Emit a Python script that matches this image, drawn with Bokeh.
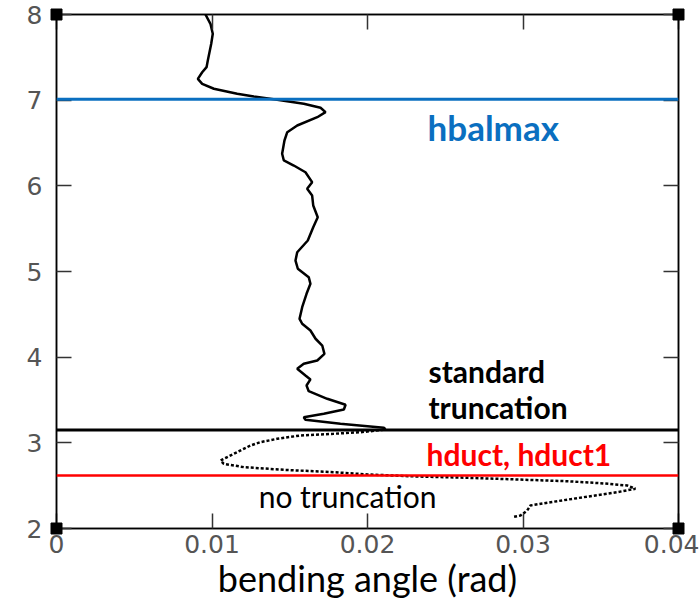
from bokeh.plotting import figure
from bokeh.models import Span, Label, LinearAxis, FixedTicker, Range1d
from bokeh.embed import file_html
from bokeh.resources import INLINE

# Bending angle profile: solid part (above standard truncation)
solid_angle = [0.00958, 0.00990, 0.01005, 0.00995, 0.00973, 0.00965, 0.00937, 0.00909,
               0.00937, 0.01012, 0.01162, 0.01269, 0.01419, 0.01590, 0.01698, 0.01730,
               0.01677, 0.01548, 0.01484, 0.01466, 0.01451, 0.01462, 0.01526, 0.01601,
               0.01644, 0.01612, 0.01644, 0.01651, 0.01680, 0.01651, 0.01616, 0.01548,
               0.01537, 0.01552, 0.01622, 0.01633, 0.01608, 0.01580, 0.01563, 0.01580,
               0.01633, 0.01666, 0.01709, 0.01723, 0.01677, 0.01590, 0.01548, 0.01601,
               0.01633, 0.01608, 0.01622, 0.01741, 0.01859, 0.01848, 0.01719, 0.01590,
               0.01601, 0.01826, 0.02105, 0.02116]
solid_height = [8.000, 7.891, 7.775, 7.658, 7.463, 7.385, 7.326, 7.249,
                7.191, 7.133, 7.074, 7.043, 7.004, 6.958, 6.911, 6.860,
                6.801, 6.704, 6.626, 6.529, 6.374, 6.296, 6.237, 6.159,
                6.043, 5.965, 5.887, 5.771, 5.634, 5.517, 5.362, 5.225,
                5.128, 5.032, 4.934, 4.857, 4.740, 4.583, 4.448, 4.390,
                4.311, 4.215, 4.136, 4.039, 3.961, 3.923, 3.864, 3.786,
                3.740, 3.669, 3.603, 3.514, 3.444, 3.389, 3.339, 3.299,
                3.269, 3.222, 3.176, 3.160]

# Dotted part (below standard truncation, no truncation)
dotted_angle = [0.02105, 0.01955, 0.01783, 0.01569, 0.01419, 0.01312, 0.01248, 0.01140,
                0.01055, 0.01076, 0.01205, 0.01462, 0.01783, 0.01998, 0.02320, 0.02641,
                0.02963, 0.03284, 0.03498, 0.03670, 0.03723, 0.03606, 0.03391, 0.03177,
                0.03048, 0.03027, 0.02984, 0.02931]
dotted_height = [3.152, 3.124, 3.106, 3.086, 3.047, 3.008, 2.969, 2.872,
                 2.794, 2.755, 2.716, 2.685, 2.657, 2.631, 2.607, 2.592,
                 2.572, 2.552, 2.529, 2.502, 2.464, 2.424, 2.366, 2.307,
                 2.269, 2.210, 2.152, 2.132]

# Reference heights (km)
h_balmax = 7.01
h_standard = 3.15
h_duct = 2.62

x_ticks = [0, 0.01, 0.02, 0.03, 0.04]
y_ticks = [2, 3, 4, 5, 6, 7, 8]
x_tick_labels = {0: "0", 0.01: "0.01", 0.02: "0.02", 0.03: "0.03", 0.04: "0.04"}

p = figure(width=699, height=604, output_backend="svg", toolbar_location=None,
           x_range=Range1d(0, 0.04), y_range=Range1d(2, 8),
           min_border_left=56, min_border_right=21, min_border_top=14,
           min_border_bottom=76)
p.background_fill_color = "white"
p.border_fill_color = "white"
p.outline_line_color = "black"
p.outline_line_width = 1.5
p.grid.visible = False

tick_font = "DejaVu Sans"
for ax in (p.xaxis[0], p.yaxis[0]):
    ax.major_tick_in = 15
    ax.major_tick_out = 0
    ax.minor_tick_in = 0
    ax.minor_tick_out = 0
    ax.axis_line_color = "black"
    ax.axis_line_width = 1.5
    ax.major_tick_line_color = "#333333"
    ax.major_tick_line_width = 1.5
    ax.major_label_text_font = tick_font
    ax.major_label_text_font_size = "25px"
    ax.major_label_text_color = "#555555"

p.xaxis[0].ticker = FixedTicker(ticks=x_ticks)
p.xaxis[0].major_label_overrides = x_tick_labels
p.xaxis[0].major_label_standoff = 6
p.xaxis[0].axis_label = "bending angle (rad)"
p.xaxis[0].axis_label_text_font = "Lato"
p.xaxis[0].axis_label_text_font_style = "normal"
p.xaxis[0].axis_label_text_font_size = "36px"
p.xaxis[0].axis_label_text_color = "black"
p.xaxis[0].axis_label_standoff = 0

p.yaxis[0].ticker = FixedTicker(ticks=y_ticks)
p.yaxis[0].major_label_standoff = 14

# Mirror axes on the top and right: inward ticks, no labels
for side, ticks in (("above", x_ticks), ("right", y_ticks)):
    ax = LinearAxis(ticker=FixedTicker(ticks=ticks),
                    major_label_overrides={t: "" for t in ticks},
                    major_tick_in=15, major_tick_out=0,
                    minor_tick_in=0, minor_tick_out=0, axis_line_color="black",
                    axis_line_width=1.5, major_tick_line_color="#333333",
                    major_tick_line_width=1.5, major_label_standoff=0)
    p.add_layout(ax, side)

# Reference height lines
p.add_layout(Span(location=h_balmax, dimension="width", line_color="#0a6fc0", line_width=3))
p.add_layout(Span(location=h_standard, dimension="width", line_color="black", line_width=3))
p.add_layout(Span(location=h_duct, dimension="width", line_color="#ff0000", line_width=2.5))

# Profile
p.line(solid_angle, solid_height, line_color="black", line_width=2.5)
p.line(dotted_angle, dotted_height, line_color="black", line_width=2.5, line_dash="3 2")

# Corner markers
p.scatter([0, 0, 0.04, 0.04], [2, 8, 2, 8], marker="square", size=11,
          fill_color="black", line_color="black", level="overlay")

# Annotations
def add_text(txt, x, y, color, bold, size="30px"):
    p.add_layout(Label(x=x, y=y, text=txt, text_color=color, text_font="Lato",
                       text_font_size=size, text_font_style="bold" if bold else "normal",
                       text_baseline="alphabetic", text_align="left"))

add_text("hbalmax", 0.02386, 6.69, "#0a6fc0", True, "35px")
add_text("standard", 0.02392, 3.84, "black", True)
add_text("truncation", 0.02392, 3.42, "black", True)
add_text("hduct, hduct1", 0.02380, 2.87, "#ff0000", True)
add_text("no truncation", 0.01300, 2.38, "black", False)

# Run identifier above the panel
p.add_layout(Label(x=0.0201, y=8, y_offset=9, text="G222.2021.178.00.20.G18",
                   text_align="center", text_baseline="alphabetic",
                   text_font=tick_font, text_font_size="20px", text_color="#333333"))

# Tail of the neighbouring panel's tick label at the left edge
p.add_layout(Label(x=-0.0036, y=1.72, text="5", text_align="left",
                   text_baseline="alphabetic", text_font=tick_font,
                   text_font_size="22px", text_color="#777777"))

open("out.html", "w").write(file_html(p, INLINE))
